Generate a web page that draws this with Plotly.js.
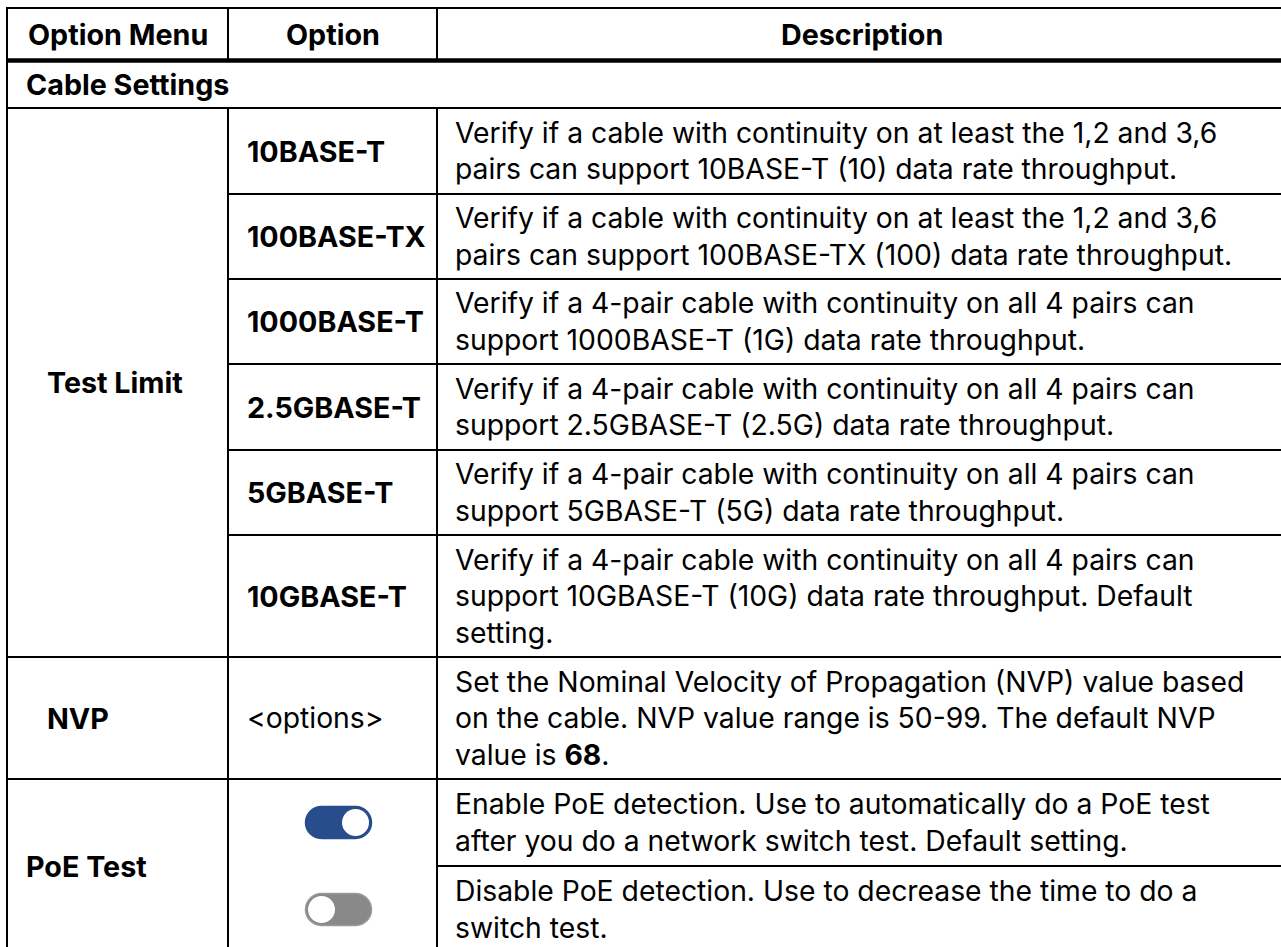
<!DOCTYPE html>
<html>
<head>
<meta charset="utf-8">
<script src="https://cdn.plot.ly/plotly-3.0.1.min.js"></script>
<style>html,body{margin:0;padding:0;background:#fff;}#chart{width:1281px;height:947px;}</style>
</head>
<body>
<div id="chart"></div>
<script>
// ---------- DATA ----------
const headers = ["Option Menu", "Option", "Description"];
const sectionTitle = "Cable Settings";
const menuGroups = ["Test Limit", "NVP", "PoE Test"];
const groupRowSpans = [6, 1, 2];
const optionLabels = ["10BASE-T", "100BASE-TX", "1000BASE-T", "2.5GBASE-T", "5GBASE-T", "10GBASE-T", "<options>", "", ""];
const toggleStates = [null, null, null, null, null, null, null, true, false];
const descriptions = [
  "Verify if a cable with continuity on at least the 1,2 and 3,6\npairs can support 10BASE-T (10) data rate throughput.",
  "Verify if a cable with continuity on at least the 1,2 and 3,6\npairs can support 100BASE-TX (100) data rate throughput.",
  "Verify if a 4-pair cable with continuity on all 4 pairs can\nsupport 1000BASE-T (1G) data rate throughput.",
  "Verify if a 4-pair cable with continuity on all 4 pairs can\nsupport 2.5GBASE-T (2.5G) data rate throughput.",
  "Verify if a 4-pair cable with continuity on all 4 pairs can\nsupport 5GBASE-T (5G) data rate throughput.",
  "Verify if a 4-pair cable with continuity on all 4 pairs can\nsupport 10GBASE-T (10G) data rate throughput. Default\nsetting.",
  "Set the Nominal Velocity of Propagation (NVP) value based\non the cable. NVP value range is 50-99. The default NVP\nvalue is <b>68</b>.",
  "Enable PoE detection. Use to automatically do a PoE test\nafter you do a network switch test. Default setting.",
  "Disable PoE detection. Use to decrease the time to do a\nswitch test."
];
const optionMergeGroups = [0, 1, 2, 3, 4, 5, 6, 7, 7]; // PoE toggles share one option cell

// ---------- LAYOUT / STYLE ----------
const W = 1281, H = 947;
const tableLeft = 7, tableTop = 8;
const colWidths = [221, 209, 850];
const headerH = 52.5, sectionH = 47.5;
const bodyRowHeights = [86, 85, 85, 86, 85, 122, 122, 87, 87];
const groupIndent = [39, 39, 18];
const optionIndent = 18, descIndent = 17, sectionIndent = 18;
const lineGap = 36.5;
const FONT = "Inter, 'Noto Sans', 'DejaVu Sans', sans-serif";
const textSize = 28.3, boldSize = 28.7;
const blue = "#284d8c", gray = "#898989";

const colX = [tableLeft];
colWidths.forEach(w => colX.push(colX[colX.length - 1] + w));
const right = colX[3];
const headerBottom = tableTop + headerH;
const sectionBottom = headerBottom + sectionH;
const rowY = [sectionBottom];
bodyRowHeights.forEach(h => rowY.push(rowY[rowY.length - 1] + h));
const bottom = rowY[rowY.length - 1];
const rowCenter = i => (rowY[i] + rowY[i + 1]) / 2;

// group index per body row
const rowGroup = [];
groupRowSpans.forEach((s, g) => { for (let k = 0; k < s; k++) rowGroup.push(g); });

const shapes = [];
const annotations = [];
function hline(y, x0, x1, w) {
  shapes.push({type: "line", xref: "x", yref: "y", x0: x0, x1: x1, y0: y, y1: y, line: {color: "#000", width: w || 2}});
}
function vline(x, y0, y1, w) {
  shapes.push({type: "line", xref: "x", yref: "y", x0: x, x1: x, y0: y0, y1: y1, line: {color: "#000", width: w || 2}});
}
function label(text, x, y, anchor, bold) {
  annotations.push({
    xref: "x", yref: "y", x: x, y: y, xanchor: anchor, yanchor: "middle",
    text: bold ? "<b>" + text + "</b>" : text, showarrow: false, borderpad: 0,
    font: {family: FONT, size: bold ? boldSize : textSize, color: "#000"}
  });
}

// borders
hline(tableTop, tableLeft - 1, right);
vline(tableLeft, tableTop - 1, bottom);
vline(right, tableTop - 1, bottom);
hline(bottom, tableLeft - 1, right);
hline(headerBottom, tableLeft - 1, right, 4.5);
hline(sectionBottom, tableLeft - 1, right);
// column dividers (not in the section row)
[colX[1], colX[2]].forEach(x => { vline(x, tableTop, headerBottom); vline(x, sectionBottom, bottom); });
// body row separators
for (let i = 0; i < bodyRowHeights.length - 1; i++) {
  let x0 = tableLeft - 1;
  if (rowGroup[i] === rowGroup[i + 1]) x0 = colX[1];
  if (optionMergeGroups[i] === optionMergeGroups[i + 1]) x0 = colX[2];
  hline(rowY[i + 1], x0, right);
}

// header texts
headers.forEach((h, c) => label(h, (colX[c] + colX[c + 1]) / 2, (tableTop + headerBottom) / 2, "center", true));
label(sectionTitle, tableLeft + sectionIndent, (headerBottom + sectionBottom) / 2, "left", true);

// group labels
let r = 0;
menuGroups.forEach((g, gi) => {
  const y = (rowY[r] + rowY[r + groupRowSpans[gi]]) / 2;
  label(g, colX[0] + groupIndent[gi], y, "left", true);
  r += groupRowSpans[gi];
});

// option labels / toggles
function pill(cx, cy, w, h, fill, stroke) {
  const rr = h / 2, k = 0.5523 * rr;
  const a = cx - w / 2 + rr, b = cx + w / 2 - rr, t = cy - rr, bt = cy + rr;
  const p = `M${a},${t} L${b},${t} C${b + k},${t} ${b + rr},${cy - k} ${b + rr},${cy} ` +
            `C${b + rr},${cy + k} ${b + k},${bt} ${b},${bt} L${a},${bt} ` +
            `C${a - k},${bt} ${a - rr},${cy + k} ${a - rr},${cy} C${a - rr},${cy - k} ${a - k},${t} ${a},${t} Z`;
  shapes.push({type: "path", xref: "x", yref: "y", path: p, fillcolor: fill, line: {color: stroke, width: 1.5}});
  return {a: a, b: b, rr: rr};
}
optionLabels.forEach((o, i) => {
  const cy = rowCenter(i);
  if (toggleStates[i] === null) {
    const isCode = o.startsWith("<");
    label(isCode ? o.replace(/</g, "&lt;").replace(/>/g, "&gt;") : o, colX[1] + optionIndent, cy, "left", !isCode);
  } else {
    const cx = (colX[1] + colX[2]) / 2 + 6;
    const on = toggleStates[i];
    const g = pill(cx, cy, 66, 32, on ? blue : gray, on ? blue : "#9a9a9a");
    const kx = on ? g.b : g.a, kr = g.rr - 2.5;
    shapes.push({type: "circle", xref: "x", yref: "y", x0: kx - kr, x1: kx + kr, y0: cy - kr, y1: cy + kr,
                 fillcolor: "#ffffff", line: {width: 0}});
  }
});

// descriptions
descriptions.forEach((d, i) => {
  const lines = d.split("\n");
  const cy = rowCenter(i);
  lines.forEach((ln, k) => {
    label(ln, colX[2] + descIndent, cy + (k - (lines.length - 1) / 2) * lineGap, "left", false);
  });
});

Plotly.newPlot("chart", [{x: [0], y: [0], mode: "markers", marker: {opacity: 0}, hoverinfo: "skip", showlegend: false}], {
  width: W, height: H,
  margin: {l: 0, r: 0, t: 0, b: 0},
  paper_bgcolor: "#fff", plot_bgcolor: "#fff",
  xaxis: {range: [0, W], visible: false, fixedrange: true},
  yaxis: {range: [H, 0], visible: false, fixedrange: true},
  shapes: shapes, annotations: annotations, showlegend: false
}, {staticPlot: true});
</script>
</body>
</html>
